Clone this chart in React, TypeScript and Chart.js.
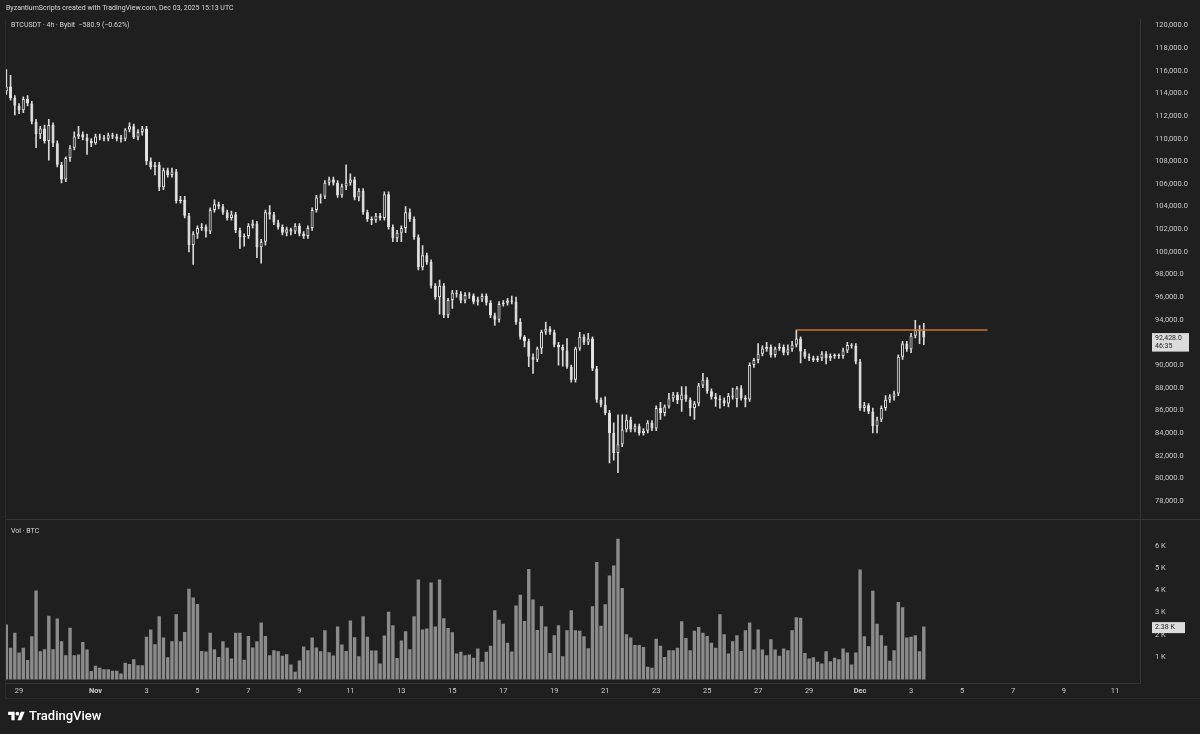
import React, { useEffect, useRef } from 'react';
import { Chart, registerables } from 'chart.js';

Chart.register(...registerables);

// ---------- data (prices in thousands of USDT, volumes in thousands of BTC) ----------
const START_UTC = Date.UTC(2025, 9, 28, 12, 0, 0); // first 4h candle: Oct 28 12:00 UTC
const BAR_MS = 4 * 3600 * 1000;

const opens = [
  114.2, 114.6, 113.6, 112.9, 112.5, 113.5, 113.1, 111.5, 110.4, 110.9,
  109.8, 111.2, 109.6, 107.7, 106.4, 108.3, 109.2, 110.2, 110.4, 110.1,
  109.8, 109.6, 110.2, 110.1, 110.0, 110.3, 110.2, 110.05, 110.0, 110.8,
  111.1, 110.1, 110.6, 110.9, 108.0, 107.5, 107.7, 105.7, 107.2, 106.8,
  107.1, 104.5, 104.6, 103.2, 100.6, 101.6, 102.1, 102.2, 101.8, 103.7,
  104.2, 104.0, 103.5, 103.0, 103.3, 101.9, 101.3, 101.4, 102.3, 102.5,
  100.4, 100.9, 103.5, 103.3, 102.6, 102.2, 101.7, 102.0, 101.8, 102.3,
  101.6, 101.4, 102.1, 103.7, 104.8, 104.9, 106.1, 106.4, 106.1, 105.0,
  105.8, 106.1, 106.4, 104.8, 105.4, 103.5, 102.9, 102.8, 103.2, 103.0,
  105.1, 102.2, 101.2, 101.7, 102.1, 103.5, 102.9, 101.3, 98.65, 99.7,
  99.1, 97.0, 96.0, 97.0, 94.4, 95.75, 96.4, 96.3, 95.7, 96.2,
  96.15, 95.6, 95.8, 96.1, 95.5, 94.4, 94.0, 95.4, 95.5, 95.7,
  95.6, 93.8, 92.5, 92.1, 90.74, 90.47, 91.47, 92.94, 93.2, 92.9,
  91.8, 91.6, 91.3, 89.86, 88.7, 91.47, 92.5, 92.0, 92.35, 89.7,
  86.93, 86.5, 85.76, 84.0, 82.24, 83.0, 84.3, 85.18, 84.3, 84.6,
  84.0, 84.2, 84.9, 84.4, 86.2, 85.76, 86.35, 87.07, 87.4, 86.9,
  87.4, 86.95, 86.2, 86.6, 88.2, 88.7, 87.7, 87.2, 87.0, 86.9,
  86.6, 87.3, 87.0, 87.96, 87.1, 86.95, 90.0, 90.45, 91.0, 91.4,
  91.6, 90.9, 91.47, 91.6, 91.1, 91.4, 91.8, 92.35, 91.2, 90.74,
  90.6, 90.45, 90.6, 91.0, 90.6, 90.8, 90.85, 90.8, 91.3, 91.77,
  91.7, 90.3, 86.2, 86.45, 85.9, 84.6, 85.2, 86.2, 86.94, 87.2,
  87.5, 90.74, 91.9, 91.4, 92.6, 93.1, 93.01,
];

const highs = [
  116.1, 115.6, 113.8, 113.1, 113.7, 113.8, 113.3, 111.7, 111.1, 111.2,
  111.7, 111.4, 109.8, 107.9, 108.4, 109.4, 110.6, 111.1, 110.6, 110.4,
  110.0, 110.4, 110.4, 110.3, 110.5, 110.5, 110.4, 110.3, 110.9, 111.4,
  111.3, 110.8, 111.1, 111.1, 108.3, 107.9, 107.9, 107.4, 107.4, 107.4,
  107.3, 104.9, 104.9, 103.4, 101.8, 102.3, 102.5, 102.4, 103.9, 104.6,
  104.4, 104.2, 103.7, 103.6, 103.5, 102.1, 101.6, 102.5, 102.8, 102.7,
  101.1, 103.7, 104.1, 103.5, 102.8, 102.4, 102.2, 102.1, 102.5, 102.5,
  101.8, 102.3, 103.9, 105.0, 105.1, 106.3, 106.6, 106.6, 106.3, 106.0,
  107.7, 106.9, 106.6, 105.6, 105.6, 103.7, 103.1, 103.4, 103.4, 105.3,
  105.3, 102.4, 101.9, 102.3, 104.0, 103.8, 103.1, 101.5, 100.55, 99.9,
  99.3, 97.2, 97.5, 97.2, 95.9, 96.6, 96.6, 96.5, 96.4, 96.4,
  96.3, 96.0, 96.3, 96.3, 95.7, 94.6, 95.6, 95.7, 95.9, 96.1,
  96.0, 94.1, 92.6, 92.3, 91.0, 91.6, 93.1, 93.8, 93.4, 93.1,
  92.0, 91.8, 92.35, 90.0, 91.6, 92.9, 92.7, 92.8, 92.5, 89.9,
  87.1, 87.2, 86.0, 84.9, 85.6, 85.6, 85.6, 85.4, 84.8, 84.8,
  84.4, 85.1, 85.1, 86.4, 86.7, 86.5, 87.5, 87.6, 87.6, 88.1,
  88.1, 87.1, 86.8, 88.4, 89.27, 88.9, 87.9, 87.5, 87.3, 87.1,
  87.5, 87.96, 88.1, 88.2, 87.3, 90.2, 90.6, 91.9, 91.7, 92.0,
  91.8, 91.6, 91.9, 91.8, 91.8, 92.1, 93.1, 92.5, 91.4, 91.0,
  90.8, 90.8, 91.2, 91.2, 91.0, 91.0, 91.0, 91.5, 92.0, 91.9,
  91.9, 90.5, 86.7, 86.6, 86.2, 85.4, 86.4, 87.3, 87.4, 87.7,
  90.9, 92.1, 92.1, 92.8, 93.96, 93.5, 93.7,
];

const lows = [
  113.9, 113.4, 112.1, 112.2, 112.3, 112.9, 111.3, 109.2, 110.0, 109.6,
  108.1, 109.3, 107.5, 106.1, 106.2, 108.0, 109.0, 110.0, 109.9, 108.6,
  109.3, 109.5, 109.9, 109.8, 109.8, 110.0, 109.8, 109.7, 109.8, 110.6,
  110.0, 109.9, 110.3, 107.7, 107.3, 106.8, 105.4, 105.5, 106.6, 106.6,
  104.3, 104.3, 103.0, 100.0, 98.9, 101.2, 101.9, 101.3, 101.6, 103.5,
  103.8, 103.3, 102.8, 102.8, 101.7, 100.3, 100.5, 101.2, 102.1, 99.5,
  99.0, 100.6, 102.9, 102.4, 102.0, 101.5, 101.4, 101.5, 101.6, 101.4,
  101.2, 101.2, 101.9, 103.5, 104.3, 104.7, 105.9, 105.9, 104.8, 104.8,
  105.5, 105.9, 104.6, 104.5, 103.3, 102.7, 102.4, 102.6, 102.8, 102.8,
  102.0, 100.9, 100.9, 100.9, 101.7, 102.7, 101.1, 98.4, 98.4, 98.9,
  96.8, 95.8, 94.5, 94.2, 94.2, 95.0, 96.0, 95.5, 95.5, 95.9,
  95.4, 95.3, 95.6, 95.3, 94.2, 93.5, 93.8, 95.2, 95.3, 95.4,
  93.6, 92.3, 91.6, 89.86, 89.27, 90.3, 91.0, 92.7, 92.7, 91.6,
  90.0, 89.9, 89.7, 88.5, 88.5, 91.3, 91.8, 91.8, 89.5, 86.7,
  86.3, 85.6, 81.36, 81.6, 80.5, 82.8, 84.1, 84.1, 84.1, 83.8,
  83.8, 84.0, 84.2, 84.2, 85.2, 85.5, 86.2, 86.8, 86.6, 85.9,
  86.8, 85.5, 85.2, 86.4, 88.0, 87.5, 87.0, 86.35, 86.2, 86.4,
  86.3, 87.0, 86.3, 86.9, 86.3, 86.8, 89.8, 90.2, 90.8, 91.2,
  90.7, 90.7, 91.3, 90.9, 90.9, 91.2, 91.6, 90.2, 90.6, 90.4,
  90.3, 90.3, 90.4, 90.1, 90.4, 90.6, 90.6, 90.6, 91.1, 91.5,
  90.1, 86.0, 85.9, 85.7, 84.0, 84.0, 85.0, 86.0, 86.7, 86.9,
  87.3, 90.5, 91.2, 91.1, 92.4, 91.9, 91.8,
];

const closes = [
  114.6, 113.6, 112.9, 112.5, 113.5, 113.1, 111.5, 110.4, 110.9, 109.8,
  111.2, 109.6, 107.7, 106.4, 108.3, 109.2, 110.2, 110.4, 110.1, 109.8,
  109.6, 110.2, 110.1, 110.0, 110.3, 110.2, 110.0, 109.95, 110.8, 111.1,
  110.1, 110.6, 110.9, 108.0, 107.5, 107.7, 105.7, 107.2, 106.8, 107.1,
  104.5, 104.6, 103.2, 100.6, 101.6, 102.1, 102.2, 101.8, 103.7, 104.2,
  104.0, 103.5, 103.0, 103.3, 101.9, 101.3, 101.4, 102.3, 102.5, 100.4,
  100.9, 103.5, 103.3, 102.6, 102.2, 101.7, 102.0, 101.8, 102.3, 101.6,
  101.4, 102.1, 103.7, 104.8, 104.9, 106.1, 106.4, 106.1, 105.0, 105.8,
  106.1, 106.4, 104.8, 105.4, 103.5, 102.9, 102.8, 103.2, 103.0, 105.1,
  102.2, 101.2, 101.7, 102.1, 103.5, 102.9, 101.3, 98.65, 99.7, 99.1,
  97.0, 96.0, 97.0, 94.4, 95.75, 96.4, 96.3, 95.7, 96.2, 96.15,
  95.6, 95.8, 96.1, 95.5, 94.4, 94.0, 95.4, 95.5, 95.7, 95.6,
  93.8, 92.5, 92.1, 90.74, 90.47, 91.47, 92.94, 93.2, 92.9, 91.8,
  91.6, 91.3, 89.86, 88.7, 91.47, 92.5, 92.0, 92.35, 89.7, 86.93,
  86.5, 85.76, 84.0, 82.24, 83.0, 84.3, 85.18, 84.3, 84.6, 84.0,
  84.2, 84.9, 84.4, 86.2, 85.76, 86.35, 87.07, 87.4, 86.9, 87.4,
  86.95, 86.2, 86.6, 88.2, 88.7, 87.7, 87.2, 87.0, 86.9, 86.6,
  87.3, 87.2, 87.96, 87.1, 86.95, 90.0, 90.45, 91.0, 91.47, 91.6,
  90.9, 91.47, 91.6, 91.1, 91.4, 91.8, 92.35, 91.2, 90.74, 90.6,
  90.45, 90.6, 91.0, 90.6, 90.8, 90.85, 90.8, 91.3, 91.77, 91.7,
  90.3, 86.2, 86.45, 85.9, 84.6, 85.2, 86.2, 86.94, 87.2, 87.5,
  90.74, 91.9, 91.4, 92.6, 93.1, 93.0, 92.428,
];

const volumesK = [
  2.46, 1.42, 2.09, 1.21, 1.42, 0.87, 1.94, 3.99, 1.27, 1.36,
  2.86, 1.36, 2.73, 1.71, 1.09, 2.32, 1.09, 1.12, 1.68, 1.34,
  0.38, 0.61, 0.52, 0.46, 0.46, 0.39, 0.39, 0.27, 0.75, 0.69,
  0.91, 0.64, 0.64, 1.91, 2.24, 1.58, 2.83, 1.88, 0.99, 1.71,
  2.92, 1.71, 2.13, 4.07, 3.68, 3.38, 1.28, 1.25, 2.10, 1.36,
  1.01, 1.71, 1.42, 0.94, 2.10, 2.09, 0.88, 1.95, 1.43, 1.71,
  2.55, 1.95, 1.09, 1.31, 1.27, 1.06, 1.13, 0.67, 0.35, 0.85,
  1.48, 1.31, 1.88, 1.43, 1.27, 2.21, 1.22, 1.07, 2.38, 1.57,
  1.28, 2.65, 1.89, 1.04, 2.83, 1.92, 1.30, 1.30, 0.72, 1.97,
  3.04, 2.43, 0.96, 1.75, 2.16, 1.36, 2.83, 4.48, 2.24, 2.28,
  4.35, 2.38, 4.48, 2.74, 2.31, 2.12, 1.16,
  1.24, 1.09, 1.12, 0.97, 1.39, 0.79, 1.24, 1.51, 3.10, 2.68,
  2.50, 1.65, 1.25, 3.32, 3.80, 2.62, 4.96, 3.59, 2.22, 3.28,
  2.38, 1.19, 1.98, 2.43, 1.04, 2.21, 3.11, 2.21, 2.18, 1.94,
  1.40, 3.28, 5.27, 2.41, 3.37, 4.66, 5.11, 6.31, 4.10, 2.03,
  1.88, 1.54, 1.54, 1.46, 0.57, 0.52, 1.83, 1.51, 1.01, 1.31,
  1.31, 1.42, 2.61, 1.86, 1.31, 2.18, 2.35, 2.09, 1.95, 1.65,
  1.42, 2.93, 2.03, 1.16, 1.71, 1.98, 1.28, 2.21, 2.55, 1.34,
  2.24, 1.34, 1.09, 1.80, 1.34, 1.06, 1.39, 1.31, 2.21, 2.79,
  2.77, 1.19, 0.94, 0.99, 0.79, 0.72, 1.27, 0.82, 0.97, 0.91,
  1.39, 1.21, 0.67, 1.21, 4.93, 1.94, 1.49, 3.98, 2.50, 1.98,
  1.51, 0.84, 1.31, 3.47, 3.24, 1.88, 1.91, 1.98, 1.27, 2.37,
];

const priceTicks = [78, 80, 82, 84, 86, 88, 90, 92, 94, 96, 98, 100, 102, 104, 106, 108, 110, 112, 114, 116, 118, 120];
const volumeTicks = [1, 2, 3, 4, 5, 6];

const timeTickDates = [
  '2025-10-29', '2025-11-01', '2025-11-03', '2025-11-05', '2025-11-07', '2025-11-09', '2025-11-11',
  '2025-11-13', '2025-11-15', '2025-11-17', '2025-11-19', '2025-11-21', '2025-11-23', '2025-11-25',
  '2025-11-27', '2025-11-29', '2025-12-01', '2025-12-03', '2025-12-05', '2025-12-07', '2025-12-09', '2025-12-11',
];
const timeTickLabels = ['29', 'Nov', '3', '5', '7', '9', '11', '13', '15', '17', '19', '21', '23', '25', '27', '29', 'Dec', '3', '5', '7', '9', '11'];

const levelPrice = 93.1;
const levelStart = '2025-11-28T12:00:00Z';
const levelEnd = '2025-12-06T00:00:00Z';

const countdown = '46:35';

// ---------- styling ----------
const BG = '#1f1f1f';
const LIGHT = '#e4e4e4';
const AXIS_TEXT = '#c9cacd';
const LINE = '#353535';
const VOL = '#8b8b8b';
const ORANGE = '#c8762e';
const FONT = 'Roboto, "Noto Sans", sans-serif';

const toIndex = (iso: string) => (Date.parse(iso) - START_UTC) / BAR_MS;
const fmtPrice = (v: number) =>
  (v * 1000).toLocaleString('en-US', { minimumFractionDigits: 1, maximumFractionDigits: 1 });

export default function App() {
  const canvasRef = useRef<HTMLCanvasElement | null>(null);

  useEffect(() => {
    const canvas = canvasRef.current;
    if (!canvas) return;

    const idx = opens.map((_, i) => i);
    const wickData = idx.map((i) => ({ x: i, y: [lows[i], highs[i]] }));
    const bodyData = idx.map((i) => ({ x: i, y: [opens[i], closes[i]] }));
    const bodyFill = idx.map((i) => (closes[i] >= opens[i] ? BG : LIGHT));
    const volData = idx.map((i) => ({ x: i, y: volumesK[i] }));
    const tickIdx = timeTickDates.map((d) => toIndex(d + 'T00:00:00Z'));
    const lastClose = closes[closes.length - 1];
    const lastVol = volumesK[volumesK.length - 1];

    const overlay = {
      id: 'tvOverlay',
      beforeDraw(chart: any) {
        const { ctx, width, height } = chart;
        ctx.save();
        ctx.fillStyle = BG;
        ctx.fillRect(0, 0, width, height);
        ctx.restore();
      },
      afterDraw(chart: any) {
        const { ctx, chartArea, scales, width } = chart;
        ctx.save();
        ctx.strokeStyle = LINE;
        ctx.lineWidth = 1;
        // pane separator
        const sepY = Math.round(scales.yv.top) + 0.5;
        ctx.beginPath();
        ctx.moveTo(chartArea.left, sepY);
        ctx.lineTo(width, sepY);
        ctx.stroke();
        // frame: left and bottom
        ctx.strokeStyle = '#2b2b2b';
        ctx.beginPath();
        ctx.moveTo(Math.round(chartArea.left) + 0.5, chartArea.top);
        ctx.lineTo(Math.round(chartArea.left) + 0.5, scales.x.bottom);
        ctx.moveTo(chartArea.left, Math.round(scales.x.bottom) + 0.5);
        ctx.lineTo(width, Math.round(scales.x.bottom) + 0.5);
        ctx.stroke();

        // last price label
        const axisX = scales.y.left;
        const py = scales.y.getPixelForValue(lastClose);
        ctx.fillStyle = '#dcdcdc';
        ctx.fillRect(axisX + 12, py - 4.5, 37, 18.5);
        ctx.fillStyle = '#1a1a1a';
        ctx.font = `7px ${FONT}`;
        ctx.textBaseline = 'middle';
        ctx.textAlign = 'left';
        ctx.fillText(fmtPrice(lastClose), axisX + 15, py + 0.5);
        ctx.fillText(countdown, axisX + 15, py + 9);

        // last volume label
        const vy = scales.yv.getPixelForValue(lastVol);
        ctx.fillStyle = '#dcdcdc';
        ctx.fillRect(axisX + 12, vy - 4.5, 33, 11);
        ctx.fillStyle = '#1a1a1a';
        ctx.fillText(`${(lastVol + 0.01).toFixed(2)} K`, axisX + 15, vy + 1);
        ctx.restore();
      },
    };

    const chart = new Chart(canvas, {
      type: 'bar',
      data: {
        datasets: [
          {
            type: 'line',
            data: [
              { x: toIndex(levelStart), y: levelPrice },
              { x: toIndex(levelEnd), y: levelPrice },
            ],
            borderColor: ORANGE,
            borderWidth: 1.5,
            pointRadius: 0,
            yAxisID: 'y',
            order: 0,
          } as any,
          {
            type: 'bar',
            data: bodyData as any,
            backgroundColor: bodyFill,
            borderColor: LIGHT,
            borderWidth: 1,
            borderSkipped: false,
            minBarLength: 1,
            barPercentage: 0.72,
            categoryPercentage: 1,
            grouped: false,
            yAxisID: 'y',
            order: 1,
          } as any,
          {
            type: 'bar',
            data: wickData as any,
            backgroundColor: '#d8d8d8',
            barThickness: 1,
            grouped: false,
            yAxisID: 'y',
            order: 2,
          } as any,
          {
            type: 'bar',
            data: volData as any,
            backgroundColor: VOL,
            barPercentage: 0.8,
            categoryPercentage: 1,
            grouped: false,
            yAxisID: 'yv',
            order: 3,
          } as any,
        ],
      },
      options: {
        animation: false,
        responsive: true,
        maintainAspectRatio: false,
        events: [],
        layout: { padding: { left: 5, right: 0, top: 16, bottom: 36 } },
        plugins: { legend: { display: false }, tooltip: { enabled: false } },
        scales: {
          x: {
            type: 'linear',
            min: -0.31,
            max: 266.9,
            offset: false,
            grid: { display: false, drawTicks: false },
            border: { display: true, color: LINE },
            afterBuildTicks: (s: any) => {
              s.ticks = tickIdx.map((v) => ({ value: v }));
            },
            afterFit: (s: any) => {
              s.height = 15;
            },
            ticks: {
              autoSkip: false,
              maxRotation: 0,
              minRotation: 0,
              padding: 4,
              color: AXIS_TEXT,
              font: (c: any) => ({
                family: FONT,
                size: 7.5,
                weight: timeTickLabels[c.index] === 'Nov' || timeTickLabels[c.index] === 'Dec' ? 'bold' : 'normal',
              }),
              callback: (_v: any, i: number) => timeTickLabels[i],
            },
          },
          y: {
            type: 'linear',
            position: 'right',
            stack: 'panes',
            stackWeight: 502,
            min: 76.417,
            max: 120.527,
            grid: { display: false, drawTicks: false },
            border: { display: true, color: LINE },
            afterBuildTicks: (s: any) => {
              s.ticks = priceTicks.map((v) => ({ value: v }));
            },
            afterFit: (s: any) => {
              s.width = 60;
            },
            ticks: {
              autoSkip: false,
              padding: 15,
              color: AXIS_TEXT,
              font: { family: FONT, size: 7.5 },
              callback: (v: any) => fmtPrice(Number(v)),
            },
          },
          yv: {
            type: 'linear',
            position: 'right',
            stack: 'panes',
            stackWeight: 165,
            min: -0.16,
            max: 7.205,
            grid: { display: false, drawTicks: false },
            border: { display: true, color: LINE },
            afterBuildTicks: (s: any) => {
              s.ticks = volumeTicks.map((v) => ({ value: v }));
            },
            afterFit: (s: any) => {
              s.width = 60;
            },
            ticks: {
              autoSkip: false,
              padding: 15,
              color: AXIS_TEXT,
              font: { family: FONT, size: 7.5 },
              callback: (v: any) => `${v} K`,
            },
          },
        } as any,
      },
      plugins: [overlay],
    } as any);

    return () => chart.destroy();
  }, []);

  const textStyle: React.CSSProperties = {
    position: 'absolute',
    color: '#d6d7da',
    fontFamily: FONT,
    fontSize: 7,
    lineHeight: '9px',
    whiteSpace: 'nowrap',
    pointerEvents: 'none',
  };

  return (
    <div style={{ position: 'fixed', left: 0, top: 0, width: 1200, height: 734, background: BG, overflow: 'hidden' }}>
      <canvas ref={canvasRef} width={1200} height={734} />
      <div style={{ ...textStyle, left: 6, top: 3.5 }}>ByzantiumScripts created with TradingView.com, Dec 03, 2025 15:13 UTC</div>
      <div style={{ ...textStyle, left: 11, top: 20.5 }}>BTCUSDT · 4h · Bybit&nbsp; −580.9 (−0.62%)</div>
      <div style={{ ...textStyle, left: 11, top: 526.5 }}>Vol · BTC</div>
      <div style={{ position: 'absolute', left: 8, top: 709, display: 'flex', alignItems: 'center', pointerEvents: 'none' }}>
        <svg width="17" height="13" viewBox="0 0 36 28" style={{ display: 'block' }}>
          <path d="M14 22H7V11H0V4h14v18zM28 22h-8l7.5-18h8L28 22z" fill="#ffffff" />
          <circle cx="20" cy="8" r="4" fill="#ffffff" />
        </svg>
        <span style={{ marginLeft: 4, color: '#ffffff', fontFamily: FONT, fontSize: 13, fontWeight: 500, lineHeight: '14px' }}>
          TradingView
        </span>
      </div>
    </div>
  );
}
